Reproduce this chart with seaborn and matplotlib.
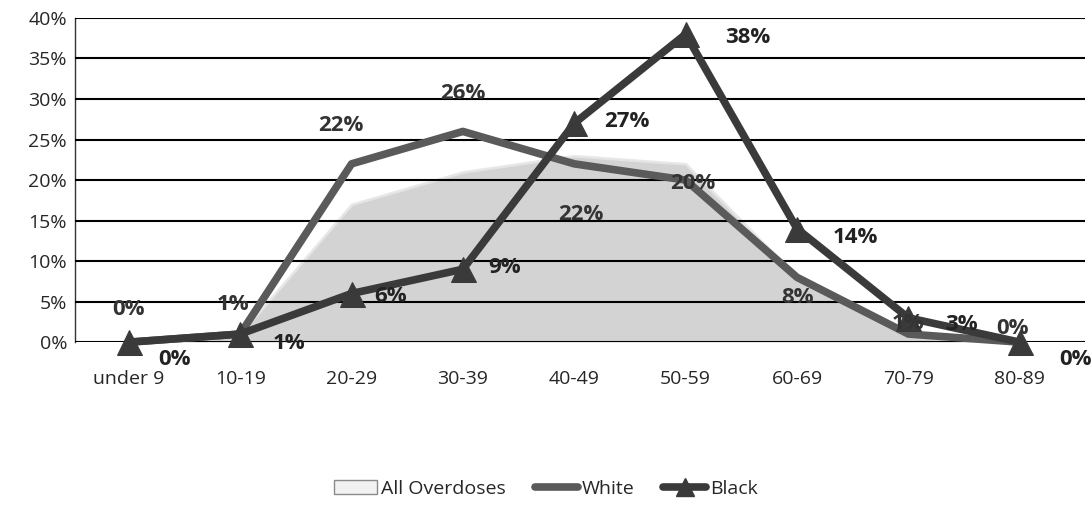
import matplotlib
matplotlib.use("Agg")
import matplotlib.pyplot as plt
from matplotlib.patches import Patch
from matplotlib.lines import Line2D
import seaborn as sns
import pandas as pd
import numpy as np

# Data (percent)
age_groups = ['under 9', '10-19', '20-29', '30-39', '40-49', '50-59', '60-69', '70-79', '80-89']
all_overdoses = [0, 1, 17, 21, 23, 22, 8, 1, 0]
white = [0, 1, 22, 26, 22, 20, 8, 1, 0]
black = [0, 1, 6, 9, 27, 38, 14, 3, 0]

df = pd.DataFrame({'age': age_groups, 'pos': range(len(age_groups)),
                   'All Overdoses': all_overdoses, 'White': white, 'Black': black})

sns.set_style("white")
plt.rcParams['font.family'] = ['Open Sans', 'DejaVu Sans']

fig = plt.figure(figsize=(10.92, 5.13), dpi=100)
ax = fig.add_axes([0.069, 0.333, 0.925, 0.632])

# area series
ax.fill_between(df['pos'], df['All Overdoses'], color='#cfcfcf', alpha=0.9,
                edgecolor='#e6e6e6', linewidth=2, zorder=2)

sns.lineplot(data=df, x='pos', y='White', ax=ax, color='#5a5a5a', linewidth=5.5,
             zorder=4, legend=False, clip_on=False)
sns.lineplot(data=df, x='pos', y='Black', ax=ax, color='#3a3a3a', linewidth=5.5,
             marker='^', markersize=18, markeredgecolor='#3a3a3a', zorder=5, legend=False,
             clip_on=False)

ax.set_xlim(-0.48, 8.59)
ax.set_ylim(0, 40)
ax.set_yticks(range(0, 41, 5))
ax.set_yticklabels([f'{v}%' for v in range(0, 41, 5)], fontsize=14)
ax.set_xticks(range(len(age_groups)))
ax.set_xticklabels(age_groups, fontsize=14)
ax.set_xticks(np.arange(0.5, 8.5, 1), minor=True)
ax.tick_params(axis='x', which='major', length=0, pad=20)
ax.tick_params(axis='x', which='minor', length=6, width=1.2, color='#333333', direction='out')
ax.tick_params(axis='y', length=0, pad=6)
ax.set_xlabel('')
ax.set_ylabel('')
ax.yaxis.grid(True, color='black', linewidth=1.5)
ax.set_axisbelow(False)
for side in ['top', 'right', 'bottom']:
    ax.spines[side].set_visible(False)
ax.spines['left'].set_color('#333333')
ax.spines['left'].set_linewidth(1)

# data labels
white_off = [(0, 16), (-5, 14), (-8, 20), (0, 20), (5, -44), (5, -10), (0, -22), (0, 0), (-5, 2)]
black_off = [(33, -20), (35, -14), (28, -10), (30, -6), (38, -6), (45, -10), (42, -14), (38, -12), (40, -20)]
for i in range(len(age_groups)):
    ax.annotate(f'{white[i]}%', (i, white[i]), xytext=white_off[i], textcoords='offset points',
                ha='center', va='bottom', fontsize=16, fontweight='bold', color='#333333', zorder=6)
    ax.annotate(f'{black[i]}%', (i, black[i]), xytext=black_off[i], textcoords='offset points',
                ha='center', va='bottom', fontsize=16, fontweight='bold', color='#222222', zorder=6)

handles = [Patch(facecolor='#f2f2f2', edgecolor='#8a8a8a', label='All Overdoses'),
           Line2D([0], [0], color='#5a5a5a', linewidth=5.5, label='White'),
           Line2D([0], [0], color='#3a3a3a', linewidth=5.5, marker='^', markersize=13, label='Black')]
fig.legend(handles=handles, loc='lower center', bbox_to_anchor=(0.5, -0.005), ncol=3,
           frameon=False, fontsize=14, handlelength=2.2, handletextpad=0.2, columnspacing=1.5)

fig.savefig('out.png', dpi=100)
